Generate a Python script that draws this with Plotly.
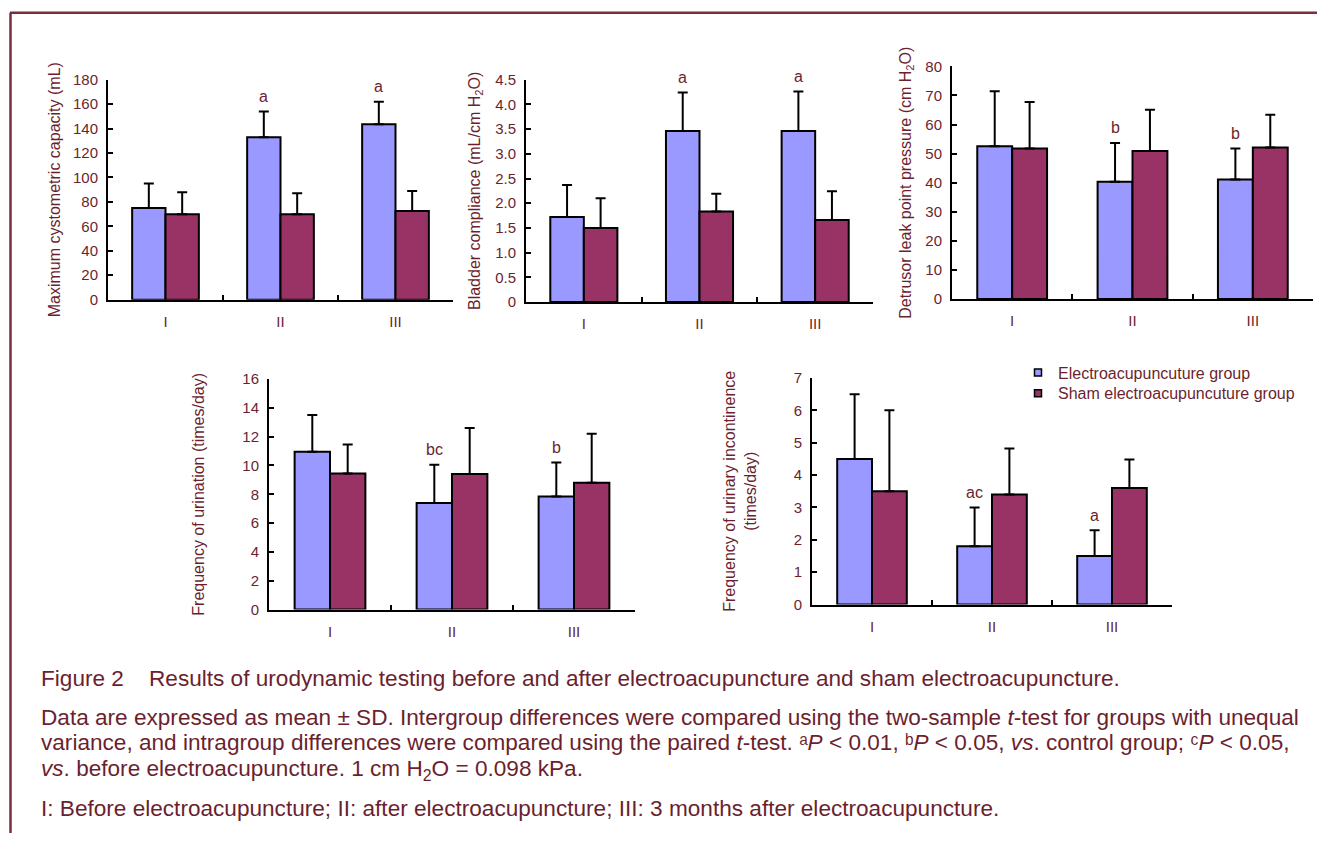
import plotly.graph_objects as go

W, H = 1317, 841
# the photographed page comes out squeezed slightly in height and shifted down;
# target pixel positions are mapped through the inverse of that
SY, OY = 0.98, 9.26

def px(x):
    return min(1.0, max(0.0, x / W))

def py(y):
    return min(1.0, max(0.0, 1 - ((y - OY) / SY) / H))

TXT = "#6B1F2F"
BLUE = "#9999FF"
MAROON = "#993366"
FONT = "Liberation Sans, Arial, sans-serif"

categories = ["I", "II", "III"]
group_names = ["Electroacupuncuture group", "Sham electroacupuncuture group"]

# Maximum cystometric capacity (mL)
mcc_ea = [75, 133, 143.5]
mcc_ea_sd = [20, 21, 18.5]
mcc_sham = [70, 70, 72.5]
mcc_sham_sd = [18, 17, 16.5]
mcc_sig = ["", "a", "a"]

# Bladder compliance (mL/cm H2O)
bc_ea = [1.72, 3.46, 3.46]
bc_ea_sd = [0.65, 0.78, 0.80]
bc_sham = [1.50, 1.83, 1.66]
bc_sham_sd = [0.60, 0.36, 0.58]
bc_sig = ["", "a", "a"]
bc_tickvals = [0, 0.5, 1.0, 1.5, 2.0, 2.5, 3.0, 3.5, 4.0, 4.5]
bc_ticktext = ["0", "0.5", "1.0", "1.5", "2.0", "2.5", "3.0", "3.5", "4.0", "4.5"]

# Detrusor leak point pressure (cm H2O)
dlpp_ea = [52.5, 40.3, 41.1]
dlpp_ea_sd = [19, 13.4, 10.7]
dlpp_sham = [51.8, 50.9, 52.1]
dlpp_sham_sd = [16, 14.2, 11.3]
dlpp_sig = ["", "b", "b"]

# Frequency of urination (times/day)
fu_ea = [10.95, 7.4, 7.85]
fu_ea_sd = [2.55, 2.65, 2.35]
fu_sham = [9.45, 9.4, 8.8]
fu_sham_sd = [2.0, 3.2, 3.4]
fu_sig = ["", "bc", "b"]

# Frequency of urinary incontinence (times/day)
fi_ea = [4.5, 1.8, 1.5]
fi_ea_sd = [2.0, 1.2, 0.8]
fi_sham = [3.5, 3.4, 3.6]
fi_sham_sd = [2.5, 1.42, 0.88]
fi_sig = ["", "ac", "a"]

BARGAP = 0.42

panels = [
    dict(ea=mcc_ea, ea_sd=mcc_ea_sd, sham=mcc_sham, sham_sd=mcc_sham_sd, sig=mcc_sig,
         title="Maximum cystometric capacity (mL)", rng=[0, 180], dtick=20,
         box=(108, 453, 80, 300), standoff=8),
    dict(ea=bc_ea, ea_sd=bc_ea_sd, sham=bc_sham, sham_sd=bc_sham_sd, sig=bc_sig,
         title="Bladder compliance (mL/cm H<sub>2</sub>O)", rng=[0, 4.5],
         tickvals=bc_tickvals, ticktext=bc_ticktext,
         box=(526, 873, 80, 302.3), standoff=11),
    dict(ea=dlpp_ea, ea_sd=dlpp_ea_sd, sham=dlpp_sham, sham_sd=dlpp_sham_sd, sig=dlpp_sig,
         title="Detrusor leak point pressure (cm H<sub>2</sub>O)", rng=[0, 80], dtick=10,
         box=(952, 1313, 66.7, 299.3), standoff=10),
    dict(ea=fu_ea, ea_sd=fu_ea_sd, sham=fu_sham, sham_sd=fu_sham_sd, sig=fu_sig,
         title="Frequency of urination (times/day)", rng=[0, 16], dtick=2,
         box=(269, 635, 379.3, 610), standoff=34),
    dict(ea=fi_ea, ea_sd=fi_ea_sd, sham=fi_sham, sham_sd=fi_sham_sd, sig=fi_sig,
         title="Frequency of urinary incontinence<br>(times/day)", rng=[0, 7], dtick=1,
         box=(812, 1172, 378.3, 605), standoff=33),
]

fig = go.Figure()
annotations = []
layout = {}

for i, p in enumerate(panels, start=1):
    xa = "x" if i == 1 else f"x{i}"
    ya = "y" if i == 1 else f"y{i}"
    for vals, sds, color, name in ((p["ea"], p["ea_sd"], BLUE, group_names[0]),
                                   (p["sham"], p["sham_sd"], MAROON, group_names[1])):
        fig.add_trace(go.Bar(
            x=categories, y=vals, name=name, showlegend=False,
            marker=dict(color=color, line=dict(color="black", width=2)),
            error_y=dict(type="data", symmetric=False, array=sds,
                         arrayminus=[0] * len(sds), color="black",
                         thickness=2, width=5),
            xaxis=xa, yaxis=ya, hoverinfo="skip"))
    x0, x1, yt, yb = p["box"]
    xkey = "xaxis" if i == 1 else f"xaxis{i}"
    ykey = "yaxis" if i == 1 else f"yaxis{i}"
    layout[xkey] = dict(
        domain=[px(x0), px(x1)], anchor=ya, type="category",
        range=[-0.5, 2.5], showline=True, linecolor="black", linewidth=2,
        ticks="inside", tickson="boundaries", ticklen=5, tickwidth=1.5,
        tickcolor="black", showgrid=False, zeroline=False,
        tickfont=dict(size=15, color=TXT, family=FONT), ticklabelstandoff=7,
        fixedrange=True)
    yax = dict(
        domain=[py(yb), py(yt)], anchor=xa, range=p["rng"],
        showline=True, linecolor="black", linewidth=2, ticks="inside",
        ticklen=5, tickwidth=1.5, tickcolor="black", showgrid=False,
        zeroline=False, tickfont=dict(size=15, color=TXT, family=FONT),
        ticklabelstandoff=5, fixedrange=True,
        title=dict(text=p["title"], font=dict(size=16, color=TXT, family=FONT),
                   standoff=p["standoff"]))
    if "tickvals" in p:
        yax.update(tickmode="array", tickvals=p["tickvals"], ticktext=p["ticktext"])
    else:
        yax.update(tick0=0, dtick=p["dtick"])
    layout[ykey] = yax
    # significance letters above the first-group error bars
    off = (1 - BARGAP) / 4
    for j, lab in enumerate(p["sig"]):
        if lab:
            annotations.append(dict(
                x=j - off, y=p["ea"][j] + p["ea_sd"][j], xref=xa, yref=ya,
                text=lab, showarrow=False, yanchor="middle", yshift=15,
                font=dict(size=16, color=TXT, family=FONT)))

# legend entries (one legend box per entry so the row spacing matches)
legend_ids = ["legend", "legend2"]
legend_tops = [356, 376.6]
for name, color, lid in zip(group_names, (BLUE, MAROON), legend_ids):
    fig.add_trace(go.Scatter(
        x=[None], y=[None], mode="markers", name=name, legend=lid,
        marker=dict(symbol="square", size=7, color=color,
                    line=dict(color="black", width=1.5)),
        xaxis="x", yaxis="y", hoverinfo="skip"))
legend_layout = {}
for lid, top in zip(legend_ids, legend_tops):
    legend_layout[lid] = dict(
        x=px(1018), y=py(top), xanchor="left", yanchor="top",
        font=dict(size=16, color=TXT, family=FONT),
        bgcolor="rgba(0,0,0,0)", itemclick=False, itemdoubleclick=False)

CAP = 22.6
caption = [
    ("Figure 2\u00a0\u00a0\u00a0\u00a0Results of urodynamic testing before and after electroacupuncture and sham electroacupuncture.", 678.5),
    ("Data are expressed as mean ± SD. Intergroup differences were compared using the two-sample <i>t</i>-test for groups with unequal", 717.5),
    ("variance, and intragroup differences were compared using the paired <i>t</i>-test. \u1d43<i>P</i> &lt; 0.01, \u1d47<i>P</i> &lt; 0.05, <i>vs</i>. control group; \u1d9c<i>P</i> &lt; 0.05,", 743.2),
    ("<i>vs</i>. before electroacupuncture. 1 cm H<sub>2</sub>O = 0.098 kPa.", 770.5),
    ("I: Before electroacupuncture; II: after electroacupuncture; III: 3 months after electroacupuncture.", 809),
]
for text, yc in caption:
    annotations.append(dict(
        x=px(39), y=py(yc), xref="paper", yref="paper", xanchor="left",
        yanchor="middle", text=text, showarrow=False, align="left",
        font=dict(size=CAP, color=TXT, family=FONT)))

BORDER = "#7B2D3D"
shapes = [
    dict(type="line", xref="paper", yref="paper", x0=px(10), x1=1.0,
         y0=py(13), y1=py(13), line=dict(color=BORDER, width=2.5)),
    dict(type="line", xref="paper", yref="paper", x0=px(10.5), x1=px(10.5),
         y0=py(13), y1=0, line=dict(color=BORDER, width=2.5)),
]

fig.update_layout(
    width=W, height=H, margin=dict(l=0, r=0, t=0, b=0), autosize=False,
    paper_bgcolor="white", plot_bgcolor="white",
    font=dict(family=FONT, color=TXT),
    barmode="group", bargap=BARGAP, bargroupgap=0,
    showlegend=True,
    annotations=annotations, shapes=shapes, **layout, **legend_layout)

post = (
    "document.documentElement.style.margin='0';"
    "document.documentElement.style.padding='0';"
    "document.body.style.margin='0';document.body.style.padding='0';"
    "document.body.style.overflow='hidden';"
    "var gd=document.getElementById('{plot_id}');"
    "gd.style.position='absolute';gd.style.left='0px';gd.style.top='0px';"
)
fig.write_html("out.html", config={"displayModeBar": False}, post_script=post)
